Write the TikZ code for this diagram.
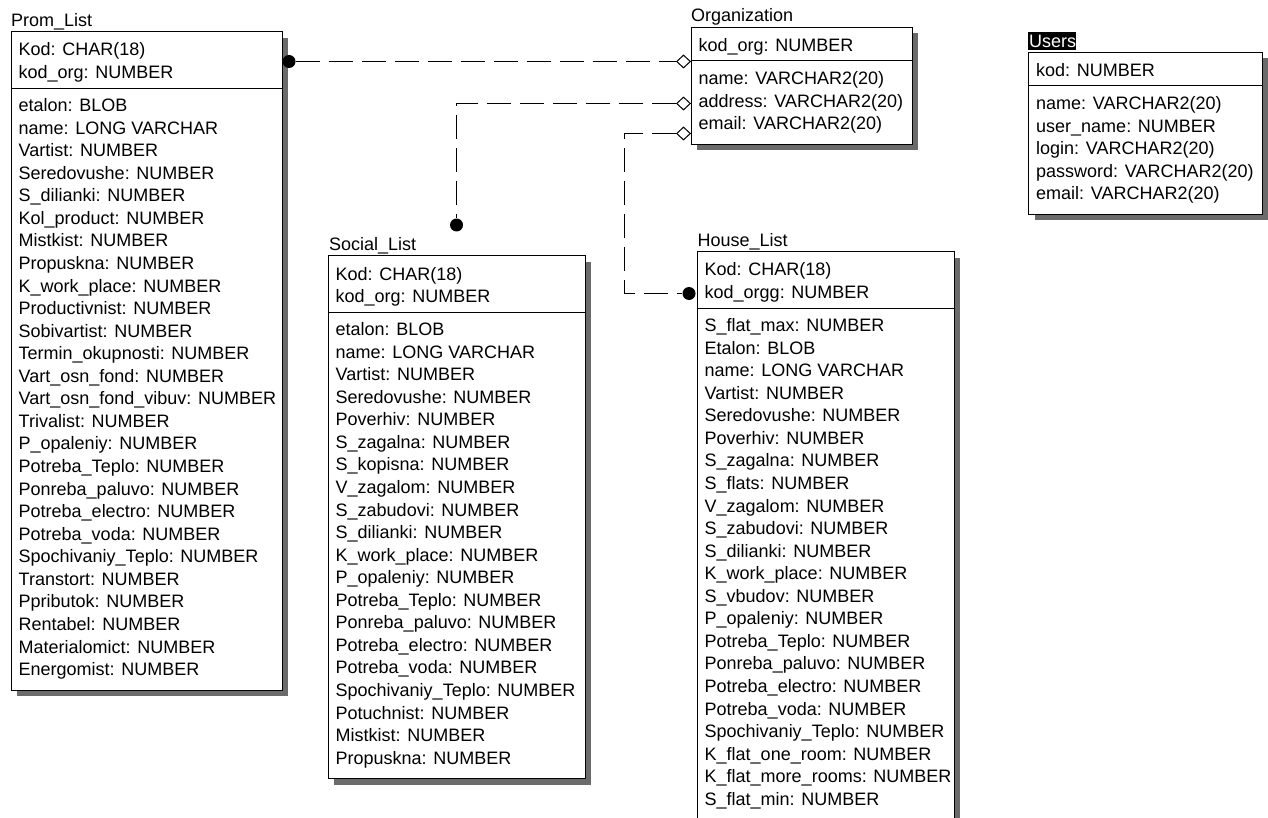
\documentclass[tikz,border=0pt]{standalone}
\usepackage{fontspec}
\setmainfont{Liberation Sans}
\usetikzlibrary{shapes.geometric}

\tikzset{
  er font/.style={font=\fontsize{18pt}{20pt}\selectfont},
  rowtext/.style={er font, anchor=base west, inner sep=0pt},
  titletext/.style={er font, anchor=base west, inner sep=0pt},
  boxframe/.style={draw=black, line width=1pt, fill=white, rectangle, inner sep=0pt, outer sep=0pt, anchor=north west},
  boxshadow/.style={fill=black!58},
  divider/.style={draw=black, line width=1pt},
  conn/.style={draw=black, line width=1pt, dash pattern=on 24pt off 9pt},
  dotend/.style={circle, fill=black, inner sep=0pt, minimum size=13pt},
  diamondend/.style={diamond, draw=black, fill=white, line width=1pt, inner sep=0pt, minimum width=14pt, minimum height=13pt},
  headblack/.style={fill=black, inner sep=0pt, anchor=north west, minimum width=48pt, minimum height=18.5pt},
}

% \entity{name}{left}{top}{right}{#keys}{#attributes}{key rows}{attribute rows}
\newcommand\entity[8]{%
  \pgfmathsetmacro\erdiv{#3+24+(#5-1)*22.56+9.5}%
  \pgfmathsetmacro\erbot{\erdiv+23.5+(#6-1)*22.56+14.5}%
  \pgfmathsetmacro\erw{#4-#2}%
  \pgfmathsetmacro\erh{\erbot-#3}%
  \fill[boxshadow] (#2+6,#3+6) rectangle (#4+5.5,\erbot+6);
  \node[boxframe, minimum width=\erw pt, minimum height=\erh pt] (#1) at (#2,#3) {};
  \draw[divider] (#2,\erdiv) -- (#4,\erdiv);
  \foreach \erow [count=\i from 0] in {#7}
    \node[rowtext] (#1-k\i) at (#2+7.5, #3+24+\i*22.56) {\erow};
  \foreach \erow [count=\i from 0] in {#8}
    \node[rowtext] (#1-a\i) at (#2+7.5, \erdiv+23.5+\i*22.56) {\erow};
}

\begin{document}
\begin{tikzpicture}[x=1pt, y=-1pt]
  \fill[white] (0,0) rectangle (1268,818);
  \useasboundingbox (0,0) rectangle (1268,818);

  % Prom_List
  \entity{prom}{11}{32}{282}{2}{26}
    {Kod: CHAR(18), kod\_org: NUMBER}
    {etalon: BLOB, name: LONG VARCHAR, Vartist: NUMBER, Seredovushe: NUMBER,
     S\_dilianki: NUMBER, Kol\_product: NUMBER, Mistkist: NUMBER, Propuskna: NUMBER,
     K\_work\_place: NUMBER, Productivnist: NUMBER, Sobivartist: NUMBER,
     Termin\_okupnosti: NUMBER, Vart\_osn\_fond: NUMBER, Vart\_osn\_fond\_vibuv: NUMBER,
     Trivalist: NUMBER, P\_opaleniy: NUMBER, Potreba\_Teplo: NUMBER,
     Ponreba\_paluvo: NUMBER, Potreba\_electro: NUMBER, Potreba\_voda: NUMBER,
     Spochivaniy\_Teplo: NUMBER, Transtort: NUMBER, Ppributok: NUMBER,
     Rentabel: NUMBER, Materialomict: NUMBER, Energomist: NUMBER}
  \node[titletext] (prom-title) at (11,27) {Prom\_List};

  % Organization
  \entity{org}{691}{27.5}{912}{1}{3}
    {kod\_org: NUMBER}
    {name: VARCHAR2(20), address: VARCHAR2(20), email: VARCHAR2(20)}
  \node[titletext] (org-title) at (691,22) {Organization};

  % Users
  \entity{users}{1028.5}{52.5}{1262.5}{1}{5}
    {kod: NUMBER}
    {name: VARCHAR2(20), user\_name: NUMBER, login: VARCHAR2(20),
     password: VARCHAR2(20), email: VARCHAR2(20)}
  \node[headblack] (users-head) at (1028,31.5) {};
  \node[titletext, text=white] (users-title) at (1029,47.5) {Users};

  % Social_List
  \entity{social}{328}{256}{585}{2}{20}
    {Kod: CHAR(18), kod\_org: NUMBER}
    {etalon: BLOB, name: LONG VARCHAR, Vartist: NUMBER, Seredovushe: NUMBER,
     Poverhiv: NUMBER, S\_zagalna: NUMBER, S\_kopisna: NUMBER, V\_zagalom: NUMBER,
     S\_zabudovi: NUMBER, S\_dilianki: NUMBER, K\_work\_place: NUMBER,
     P\_opaleniy: NUMBER, Potreba\_Teplo: NUMBER, Ponreba\_paluvo: NUMBER,
     Potreba\_electro: NUMBER, Potreba\_voda: NUMBER, Spochivaniy\_Teplo: NUMBER,
     Potuchnist: NUMBER, Mistkist: NUMBER, Propuskna: NUMBER}
  \node[titletext] (social-title) at (329,251) {Social\_List};

  % House_List
  \entity{house}{697}{252}{954}{2}{22}
    {Kod: CHAR(18), kod\_orgg: NUMBER}
    {S\_flat\_max: NUMBER, Etalon: BLOB, name: LONG VARCHAR, Vartist: NUMBER,
     Seredovushe: NUMBER, Poverhiv: NUMBER, S\_zagalna: NUMBER, S\_flats: NUMBER,
     V\_zagalom: NUMBER, S\_zabudovi: NUMBER, S\_dilianki: NUMBER,
     K\_work\_place: NUMBER, S\_vbudov: NUMBER, P\_opaleniy: NUMBER,
     Potreba\_Teplo: NUMBER, Ponreba\_paluvo: NUMBER, Potreba\_electro: NUMBER,
     Potreba\_voda: NUMBER, Spochivaniy\_Teplo: NUMBER, K\_flat\_one\_room: NUMBER,
     K\_flat\_more\_rooms: NUMBER, S\_flat\_min: NUMBER}
  \node[titletext] (house-title) at (697.5,247) {House\_List};

  % relationships
  \node[dotend] (d1) at (289,61.5) {};
  \node[diamondend] (m1) at (683.5,61.5) {};
  \draw[conn] (d1) -- (m1);

  \node[diamondend] (m2) at (683.5,103.5) {};
  \node[dotend] (d2) at (456.5,225) {};
  \draw[conn] (m2) -| (d2);

  \node[diamondend] (m3) at (683.5,133.5) {};
  \coordinate (k3) at (624.5,213);
  \node[dotend] (d3) at (689,293.5) {};
  \draw[conn] (m3) -| (k3) |- (d3);
\end{tikzpicture}
\end{document}
